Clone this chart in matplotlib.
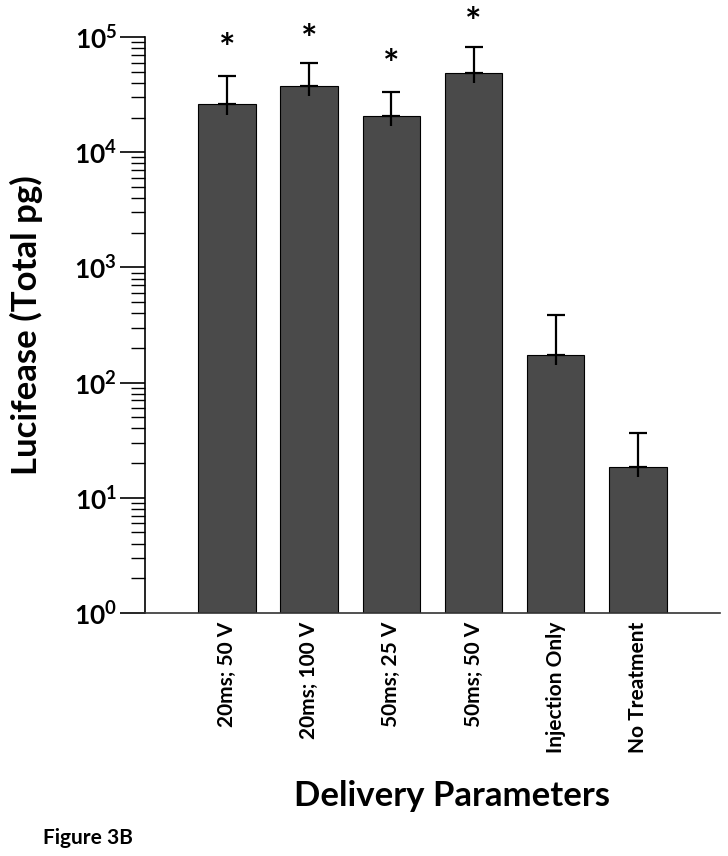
import numpy as np
import matplotlib
matplotlib.use("Agg")
import matplotlib.pyplot as plt

plt.rcParams['font.family'] = ['Lato', 'DejaVu Sans']
plt.rcParams['font.weight'] = 'bold'
plt.rcParams['mathtext.fontset'] = 'custom'
plt.rcParams['mathtext.rm'] = 'Lato:bold'
plt.rcParams['mathtext.bf'] = 'Lato:bold'
plt.rcParams['mathtext.default'] = 'bf'

# data
groups = ['20ms; 50 V', '20ms; 100 V', '50ms; 25 V', '50ms; 50 V',
          'Injection Only', 'No Treatment']
means = [26000, 37500, 20600, 49000, 174, 18.6]
err_hi = [45700, 59000, 33300, 82400, 388, 36.7]
err_lo = [21000, 31000, 16800, 39500, 143, 15.0]
star_y = [78000, 93000, 57000, 130000]   # asterisks over the first four bars

x = np.arange(len(groups))
means = np.array(means)
lo = means - np.array(err_lo)
hi = np.array(err_hi) - means

fig = plt.figure(figsize=(7.28, 8.56), dpi=100)
ax = fig.add_axes([0.199, 0.2839, 0.79, 0.6729])

ax.bar(x, means, width=0.7, color='#4a4a4a', edgecolor='black', linewidth=0.8)
# upper error with caps, lower stem only
ax.errorbar(x, means, yerr=[np.zeros_like(hi), hi], fmt='none', ecolor='black',
            elinewidth=1.6, capsize=6.5, capthick=1.6)
ax.errorbar(x, means, yerr=[lo, np.zeros_like(lo)], fmt='none', ecolor='black',
            elinewidth=1.6, capsize=0)

for i, sy in enumerate(star_y):
    ax.text(x[i], sy, '*', ha='center', va='center', fontsize=28,
            fontweight='bold', clip_on=False)

ax.set_yscale('log')
ax.set_ylim(1, 1e5)
ax.set_xlim(-1, 6)

ax.set_yticks([1, 10, 100, 1000, 1e4, 1e5])
ax.set_yticklabels([r'$\mathbf{10^{%d}}$' % k for k in range(6)], fontsize=19)
ax.tick_params(axis='y', which='major', length=18, width=1.2, direction='out', pad=2)
ax.tick_params(axis='y', which='minor', length=10, width=1.0, direction='out')

ax.set_xticks(x)
ax.set_xticklabels(groups, rotation=90, fontsize=15, fontweight='bold')
ax.tick_params(axis='x', length=0, pad=6)

for s in ['top', 'right']:
    ax.spines[s].set_visible(False)
ax.spines['left'].set_linewidth(1.2)
ax.spines['bottom'].set_linewidth(1.2)
ax.spines['bottom'].set_color('#333333')

ax.set_ylabel('Lucifease (Total pg)', fontsize=25, fontweight='bold', labelpad=22)
ax.set_xlabel('Delivery Parameters', fontsize=25, fontweight='bold', labelpad=16)
ax.xaxis.set_label_coords(0.534, -0.29)

fig.text(0.059, 0.021, 'Figure 3B', fontsize=15, fontweight='bold', va='center')

fig.savefig('out.png', dpi=100)
